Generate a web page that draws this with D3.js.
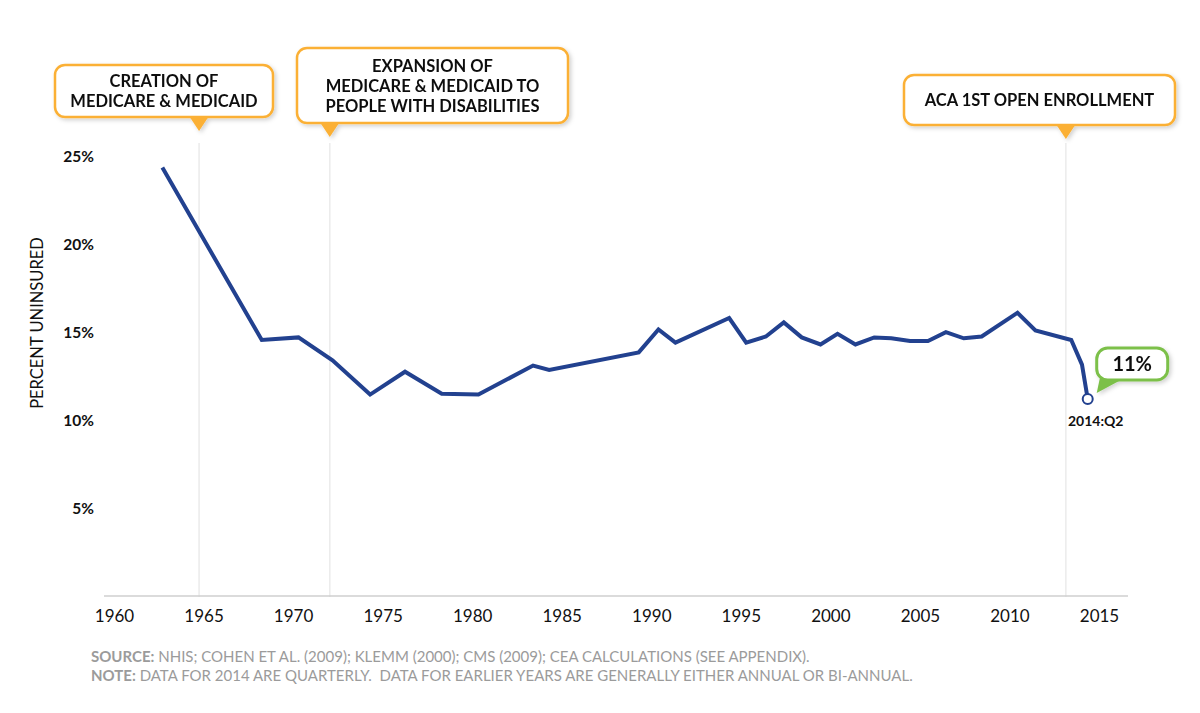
<!DOCTYPE html>
<html>
<head>
<meta charset="utf-8">
<script src="https://cdn.jsdelivr.net/npm/d3@7"></script>
<style>
  body { margin:0; background:#fff; }
  svg text { font-family: Lato, "Open Sans", sans-serif; }
</style>
</head>
<body>
<div id="chart"></div>
<script>
// uninsured rate (decimal years as plotted)
const years = [1962.7, 1968.25, 1970.3, 1972.2, 1974.3, 1976.25, 1978.3, 1980.35, 1983.4, 1984.3,
  1989.3, 1990.4, 1991.35, 1994.35, 1995.3, 1996.4, 1997.4, 1998.4, 1999.45, 2000.4, 2001.4,
  2002.45, 2003.4, 2004.45, 2005.45, 2006.45, 2007.45, 2008.45, 2010.45, 2011.45, 2013.45,
  2014.05, 2014.37];
const uninsured = [24.4, 14.6, 14.75, 13.45, 11.5, 12.8, 11.55, 11.5, 13.15, 12.9,
  13.9, 15.2, 14.45, 15.85, 14.45, 14.8, 15.6, 14.75, 14.35, 14.95, 14.35,
  14.75, 14.7, 14.55, 14.55, 15.05, 14.7, 14.8, 16.15, 15.15, 14.6,
  13.2, 11.25];

const xTicks = [1960, 1965, 1970, 1975, 1980, 1985, 1990, 1995, 2000, 2005, 2010, 2015];
const yTicks = [5, 10, 15, 20, 25];

const eventYears = [1964.75, 1972.05, 2013.15];
const eventLabels = [
  ["CREATION OF", "MEDICARE & MEDICAID"],
  ["EXPANSION OF", "MEDICARE & MEDICAID TO", "PEOPLE WITH DISABILITIES"],
  ["ACA 1ST OPEN ENROLLMENT"]
];

const lastLabel = "2014:Q2";
const lastValue = "11%";
const yTitle = "PERCENT UNINSURED";
const notes = [
  ["SOURCE:", " NHIS; COHEN ET AL. (2009); KLEMM (2000); CMS (2009); CEA CALCULATIONS (SEE APPENDIX)."],
  ["NOTE:", " DATA FOR 2014 ARE QUARTERLY.  DATA FOR EARLIER YEARS ARE GENERALLY EITHER ANNUAL OR BI-ANNUAL."]
];

// layout
const W = 1200, H = 713;
const boxes = [
  { x:55,  y:65, w:218, h:52 },
  { x:297, y:48, w:271, h:75 },
  { x:904, y:75, w:271, h:50 }
];
const orange = "#fbb034", green = "#7cc04a", blue = "#22418f";

const x = d3.scaleLinear().domain([1960, 2015]).range([114, 1099]);
const y = d3.scaleLinear().domain([0, 25]).range([597, 157]);

const svg = d3.select("#chart").append("svg")
  .attr("width", W).attr("height", H);

const defs = svg.append("defs");
const shadow = defs.append("filter").attr("id", "shadow")
  .attr("x", "-10%").attr("y", "-20%").attr("width", "130%").attr("height", "160%");
shadow.append("feDropShadow")
  .attr("dx", 2).attr("dy", 2).attr("stdDeviation", 2)
  .attr("flood-color", "#000").attr("flood-opacity", 0.18);

// event gridlines
svg.selectAll(".grid")
  .data(eventYears).enter().append("line")
  .attr("class", "grid")
  .attr("x1", d => x(d)).attr("x2", d => x(d))
  .attr("y1", 143).attr("y2", y(0))
  .attr("stroke", "#ebebeb").attr("stroke-width", 1.5);

// x axis baseline
svg.append("line")
  .attr("x1", 104).attr("x2", 1128)
  .attr("y1", y(0) - 1).attr("y2", y(0) - 1)
  .attr("stroke", "#cfcfcf").attr("stroke-width", 1.5);

const xAxis = svg.append("g")
  .attr("transform", `translate(0,${y(0) + 10})`)
  .call(d3.axisBottom(x).tickValues(xTicks).tickFormat(d3.format("d")).tickSize(0));
xAxis.select(".domain").remove();
xAxis.selectAll("text")
  .attr("fill", "#111").style("font-size", "17px");

const yAxis = svg.append("g")
  .attr("transform", "translate(97,0)")
  .call(d3.axisLeft(y).tickValues(yTicks).tickFormat(d => d + "%").tickSize(0));
yAxis.select(".domain").remove();
yAxis.selectAll("text")
  .attr("fill", "#111").style("font-size", "15.5px").style("font-weight", "700");

svg.append("text")
  .attr("transform", "translate(43,323) rotate(-90)")
  .attr("text-anchor", "middle")
  .attr("fill", "#111")
  .style("font-size", "16.5px")
  .text(yTitle);

// the line
const series = years.map((t, i) => ({ t, v: uninsured[i] }));
const line = d3.line().x(d => x(d.t)).y(d => y(d.v));

svg.append("path")
  .datum(series)
  .attr("fill", "none")
  .attr("stroke", blue)
  .attr("stroke-width", 4)
  .attr("stroke-linejoin", "miter")
  .attr("d", line);

const last = series[series.length - 1];
svg.append("circle")
  .attr("cx", x(last.t)).attr("cy", y(last.v)).attr("r", 5)
  .attr("fill", "#fff").attr("stroke", blue).attr("stroke-width", 2);

svg.append("text")
  .attr("x", x(last.t) + 8).attr("y", y(last.v) + 27)
  .attr("text-anchor", "middle")
  .attr("fill", "#111")
  .style("font-size", "14px").style("font-weight", "700")
  .text(lastLabel);

// green value callout
{
  const bx = x(last.t) + 9, by = y(last.v) - 51, bw = 71, bh = 32;
  const g = svg.append("g").attr("filter", "url(#shadow)");
  g.append("path")
    .attr("d", `M${bx + 4},${by + bh - 6} L${x(last.t) + 9},${y(last.v) - 6} L${bx + 26},${by + bh - 1} Z`)
    .attr("fill", green);
  g.append("rect")
    .attr("x", bx).attr("y", by).attr("width", bw).attr("height", bh)
    .attr("rx", 11)
    .attr("fill", "#fff").attr("stroke", green).attr("stroke-width", 3);
  g.append("text")
    .attr("x", bx + bw / 2).attr("y", by + bh / 2 + 7)
    .attr("text-anchor", "middle")
    .attr("fill", "#111")
    .style("font-size", "20px").style("font-weight", "700")
    .text(lastValue);
}

// annotation boxes
eventLabels.forEach((lines, i) => {
  const b = boxes[i];
  const px = x(eventYears[i]);
  const g = svg.append("g").attr("filter", "url(#shadow)");
  g.append("path")
    .attr("d", `M${px - 10},${b.y + b.h - 1} L${px + 10},${b.y + b.h - 1} L${px},${b.y + b.h + 14} Z`)
    .attr("fill", orange);
  g.append("rect")
    .attr("x", b.x).attr("y", b.y).attr("width", b.w).attr("height", b.h)
    .attr("rx", 10)
    .attr("fill", "#fff").attr("stroke", orange).attr("stroke-width", 2.5);
  const lh = 20;
  const y0 = b.y + b.h / 2 - (lines.length - 1) * lh / 2 + 6;
  g.selectAll(".ann")
    .data(lines).enter().append("text")
    .attr("x", b.x + b.w / 2)
    .attr("y", (d, j) => y0 + j * lh)
    .attr("text-anchor", "middle")
    .attr("fill", "#111")
    .style("font-size", "16.5px").style("font-weight", "700")
    .text(d => d);
});

// footnotes
notes.forEach((n, i) => {
  const t = svg.append("text")
    .attr("x", 91).attr("y", 662 + i * 19)
    .attr("fill", "#9b9b9b")
    .style("font-size", "15px")
    .style("white-space", "pre");
  t.append("tspan").style("font-weight", "700").text(n[0]);
  t.append("tspan").text(n[1]);
});
</script>
</body>
</html>
